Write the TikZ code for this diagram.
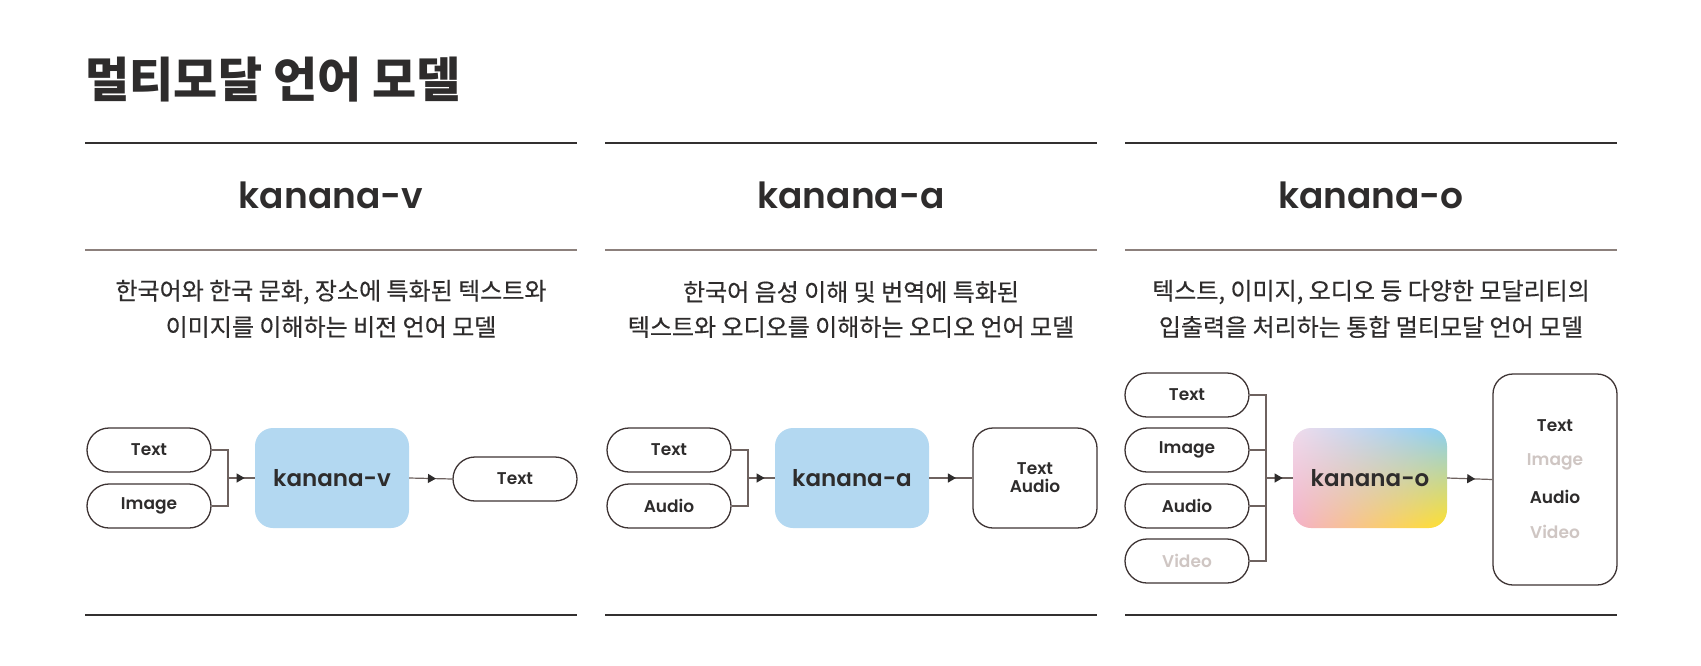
\documentclass[tikz,border=0pt]{standalone}
\usepackage{fontspec}
\setmainfont{Poppins}
\newfontfamily\popsb{Poppins SemiBold}
\newfontfamily\kr{Noto Sans CJK KR}
\newfontfamily\krd{Noto Sans CJK KR}[FakeBold=0.35]
\usetikzlibrary{arrows.meta,decorations.markings,shadings}
\definecolor{ink}{HTML}{2E2C2C}
\definecolor{ruledark}{HTML}{333030}
\definecolor{rulemid}{HTML}{8C807C}
\definecolor{pillbd}{HTML}{3E3434}
\definecolor{conn}{HTML}{6E625F}
\definecolor{kblue}{HTML}{B3D8F1}
\definecolor{faded}{HTML}{CFC6C3}
\definecolor{gUL}{HTML}{F0DCEC}
\definecolor{gUR}{HTML}{8ACEF3}
\definecolor{gLL}{HTML}{F4B0C9}
\definecolor{gLR}{HTML}{FFE12E}
\tikzset{
  pill/.style={draw=pillbd, line width=1.3pt, rounded corners=22pt, minimum width=124pt, minimum height=44pt, inner sep=0pt, font=\popsb\fontsize{17}{20}\selectfont, text=ink},
  outbox/.style={draw=pillbd, line width=1.3pt, rounded corners=20pt, minimum width=124pt, inner sep=0pt, font=\popsb\fontsize{17}{20}\selectfont, text=ink, align=center},
  model/.style={rounded corners=18pt, minimum width=154pt, minimum height=100pt, inner sep=0pt, font=\popsb\fontsize{23}{26}\selectfont, text=ink},
  connline/.style={draw=conn, line width=1.2pt},
  arrowmid/.style={connline, postaction={decorate}, decoration={markings, mark=at position 0.62 with {\arrow[ink]{Triangle[length=8pt,width=9pt]}}}},
  heading/.style={anchor=base, font=\popsb\fontsize{36}{40}\selectfont, text=ink},
  desc/.style={font=\krd\fontsize{24}{26}\selectfont, text=ink},
  outlbl/.style={font=\popsb\fontsize{17}{20}\selectfont, text=ink},
}
\begin{document}
\begin{tikzpicture}[x=1pt,y=-1pt]
\fill[white] (0,0) rectangle (1701,665);
\useasboundingbox (0,0) rectangle (1701,665);

\node[anchor=west, font=\kr\bfseries\fontsize{48}{52}\selectfont, text=ink] (title) at (82,80) {멀티모달 언어 모델};

% rules
\foreach \xa/\xb/\nm in {85/577/1,605/1097/2,1125/1617/3}{
  \coordinate (ta\nm) at (\xa,143); \coordinate (tb\nm) at (\xb,143);
  \coordinate (ma\nm) at (\xa,250); \coordinate (mb\nm) at (\xb,250);
  \coordinate (ba\nm) at (\xa,615); \coordinate (bb\nm) at (\xb,615);
  \draw[ruledark, line width=2.4pt] (ta\nm) -- (tb\nm);
  \draw[rulemid, line width=1.5pt] (ma\nm) -- (mb\nm);
  \draw[ruledark, line width=2.4pt] (ba\nm) -- (bb\nm);
}

% headings
\node[heading] (h1) at (331,208) {kanana-v};
\node[heading] (h2) at (851,208) {kanana-a};
\node[heading] (h3) at (1371,208) {kanana-o};

% descriptions
\node[desc] (d1a) at (331,292) {한국어와 한국 문화, 장소에 특화된 텍스트와};
\node[desc] (d1b) at (331,327) {이미지를 이해하는 비전 언어 모델};
\node[desc] (d2a) at (851,292) {한국어 음성 이해 및 번역에 특화된};
\node[desc] (d2b) at (851,327) {텍스트와 오디오를 이해하는 오디오 언어 모델};
\node[desc] (d3a) at (1371,292) {텍스트, 이미지, 오디오 등 다양한 모달리티의};
\node[desc] (d3b) at (1371,327) {입출력을 처리하는 통합 멀티모달 언어 모델};

% ---------- column 1 ----------
\begin{scope}[shift={(85,0)}]
\node[pill] (v_t) at (64,450) {Text};
\node[pill] (v_i) at (64,506) {Image};
\node[model, fill=kblue] (v_m) at (247,478) {kanana-v};
\node[pill] (v_o) at (430,479) {Text};
\coordinate (v_j) at (143,478);
\draw[connline] (v_t.east) -| (v_j);
\draw[connline] (v_i.east) -| (v_j);
\draw[arrowmid] (v_j) -- (v_m.west);
\draw[arrowmid] (v_m.east) -- (v_o.west);
\end{scope}

% ---------- column 2 ----------
\begin{scope}[shift={(605,0)}]
\node[pill] (a_t) at (64,450) {Text};
\node[pill] (a_a) at (64,506) {Audio};
\node[model, fill=kblue] (a_m) at (247,478) {kanana-a};
\node[outbox, minimum height=100pt] (a_o) at (430,478) {Text\\[-2pt]Audio};
\coordinate (a_j) at (143,478);
\draw[connline] (a_t.east) -| (a_j);
\draw[connline] (a_a.east) -| (a_j);
\draw[arrowmid] (a_j) -- (a_m.west);
\draw[arrowmid] (a_m.east) -- (a_o.west);
\end{scope}

% ---------- column 3 ----------
\begin{scope}[shift={(1125,0)}]
\node[pill] (o_t) at (62,395) {Text};
\node[pill] (o_i) at (62,450) {Image};
\node[pill] (o_a) at (62,506) {Audio};
\node[pill, text=faded] (o_v) at (62,561) {Video};
\node[model, shade, upper left=gUL, upper right=gUR, lower left=gLL, lower right=gLR] (o_m) at (245,478) {kanana-o};
\node[outbox, minimum height=211pt] (o_o) at (430,479.5) {};
\node[outlbl] (o_o1) at (430,426) {Text};
\node[outlbl, text=faded] (o_o2) at (430,462) {Image};
\node[outlbl] (o_o3) at (430,497) {Audio};
\node[outlbl, text=faded] (o_o4) at (430,532) {Video};
\coordinate (o_j) at (141,478);
\draw[connline] (o_t.east) -| (o_j);
\draw[connline] (o_v.east) -| (o_j);
\draw[connline] (o_i.east) -- (o_i.east -| o_j);
\draw[connline] (o_a.east) -- (o_a.east -| o_j);
\draw[arrowmid] (o_j) -- (o_m.west);
\draw[arrowmid] (o_m.east) -- (o_o.west);
\end{scope}
\end{tikzpicture}
\end{document}
